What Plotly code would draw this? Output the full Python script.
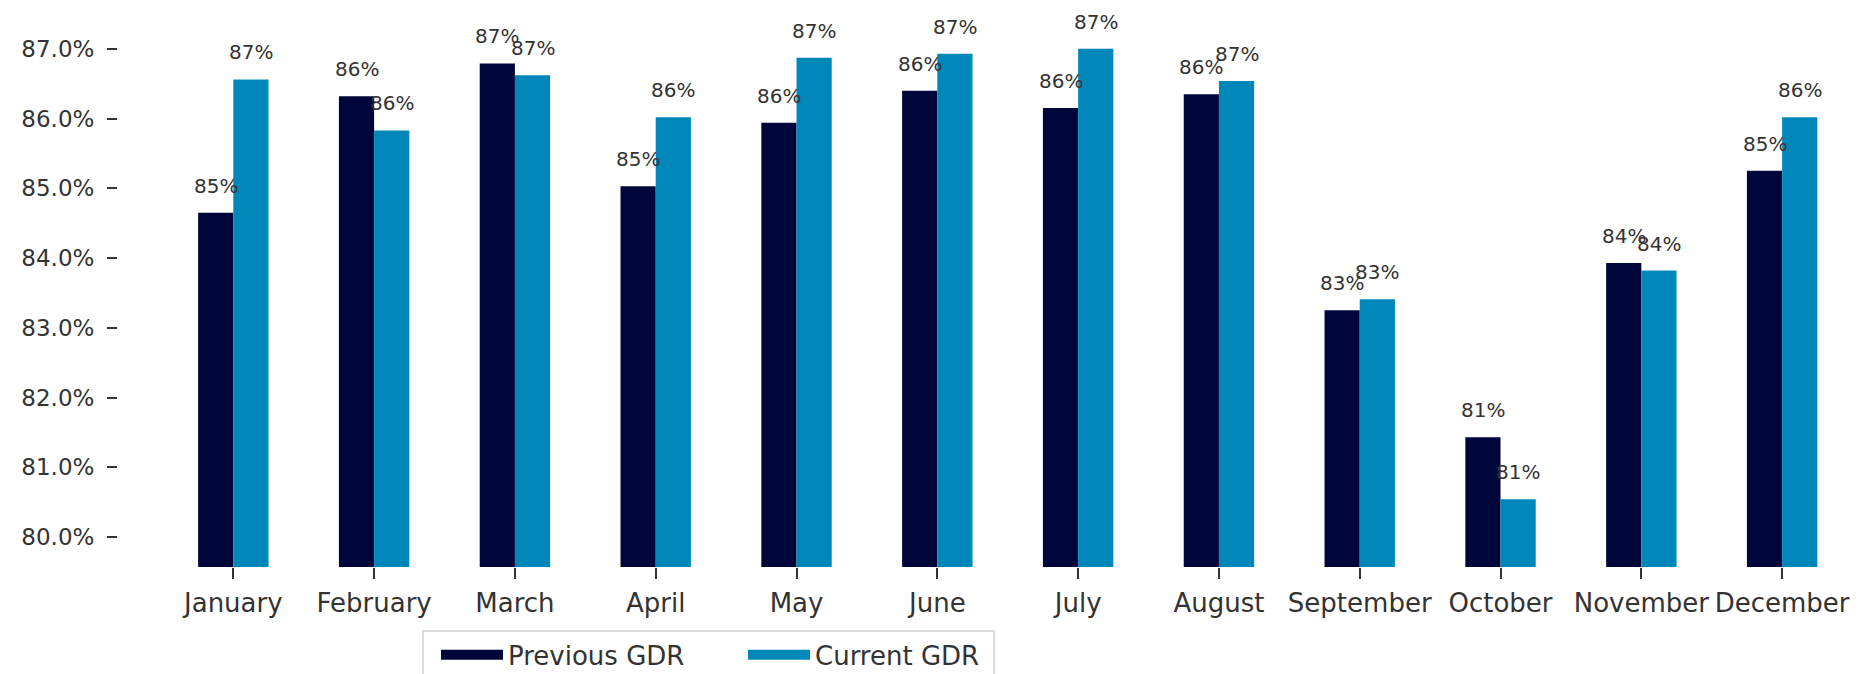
import plotly.graph_objects as go

months = ["January", "February", "March", "April", "May", "June", "July",
          "August", "September", "October", "November", "December"]
previous_gdr = [84.65, 86.32, 86.79, 85.03, 85.94, 86.40, 86.15, 86.35, 83.25, 81.43, 83.93, 85.25]
current_gdr = [86.56, 85.83, 86.62, 86.02, 86.87, 86.93, 87.00, 86.54, 83.41, 80.54, 83.82, 86.02]
y_ticks = [80, 81, 82, 83, 84, 85, 86, 87]
y_tick_labels = [f"{v:.1f}%" for v in y_ticks]

PREV_COLOR = "#00063a"
CURR_COLOR = "#0087ba"
FONT = "DejaVu Sans"
TEXT_COLOR = "#333333"

x_idx = list(range(len(months)))

fig = go.Figure()
fig.add_trace(go.Bar(x=x_idx, y=previous_gdr, name="Previous GDR", showlegend=False,
                     marker=dict(color=PREV_COLOR, line=dict(width=0))))
fig.add_trace(go.Bar(x=x_idx, y=current_gdr, name="Current GDR", showlegend=False,
                     marker=dict(color=CURR_COLOR, line=dict(width=0))))
# legend swatches (wide rectangles like the reference legend)
for name, color in (("Previous GDR", PREV_COLOR), ("Current GDR", CURR_COLOR)):
    fig.add_trace(go.Scatter(x=[None], y=[None], mode="lines", name=name,
                             line=dict(color=color, width=17), hoverinfo="skip"))

annotations = []
for i, (p, c) in enumerate(zip(previous_gdr, current_gdr)):
    for xv, v in ((i - 0.125, p), (i + 0.125, c)):
        annotations.append(dict(
            x=xv, y=v, xref="x", yref="y", text=f"{round(v)}%",
            showarrow=False, yanchor="middle", xanchor="center", yshift=27,
            font=dict(family=FONT, size=20, color=TEXT_COLOR)))

# legend frame
shapes = [dict(type="rect", xref="paper", yref="paper", x0=0.1761, x1=0.5058,
               y0=-0.3, y1=-0.1145, line=dict(color="#d0d0d0", width=1.5),
               fillcolor="white", layer="below")]

fig.update_layout(
    width=1862, height=674,
    margin=dict(l=110, r=20, t=0, b=115, autoexpand=False),
    paper_bgcolor="white", plot_bgcolor="white",
    barmode="group", bargap=0.5, bargroupgap=0,
    font=dict(family=FONT, color=TEXT_COLOR),
    annotations=annotations,
    shapes=shapes,
    showlegend=True,
    legend=dict(orientation="h", x=0.1836, xanchor="left", y=-0.115, yanchor="top",
                bgcolor="rgba(0,0,0,0)", borderwidth=0,
                font=dict(family=FONT, size=26, color=TEXT_COLOR),
                itemwidth=62, entrywidth=230, entrywidthmode="pixels"),
    xaxis=dict(range=[-0.819, 11.482], tickmode="array", tickvals=x_idx, ticktext=months,
               showgrid=False, zeroline=False, showline=False,
               ticks="outside", ticklen=11, tickcolor="#333333", tickwidth=1.5,
               ticklabelstandoff=2,
               tickfont=dict(family=FONT, size=26, color=TEXT_COLOR)),
    yaxis=dict(range=[79.57, 87.585], tickmode="array", tickvals=y_ticks,
               ticktext=y_tick_labels, ticklabelstandoff=8,
               showgrid=False, zeroline=False, showline=False,
               ticks="outside", ticklen=10, tickcolor="#333333", tickwidth=1.5,
               tickfont=dict(family=FONT, size=23, color=TEXT_COLOR)),
)

fig.write_html("out.html")
